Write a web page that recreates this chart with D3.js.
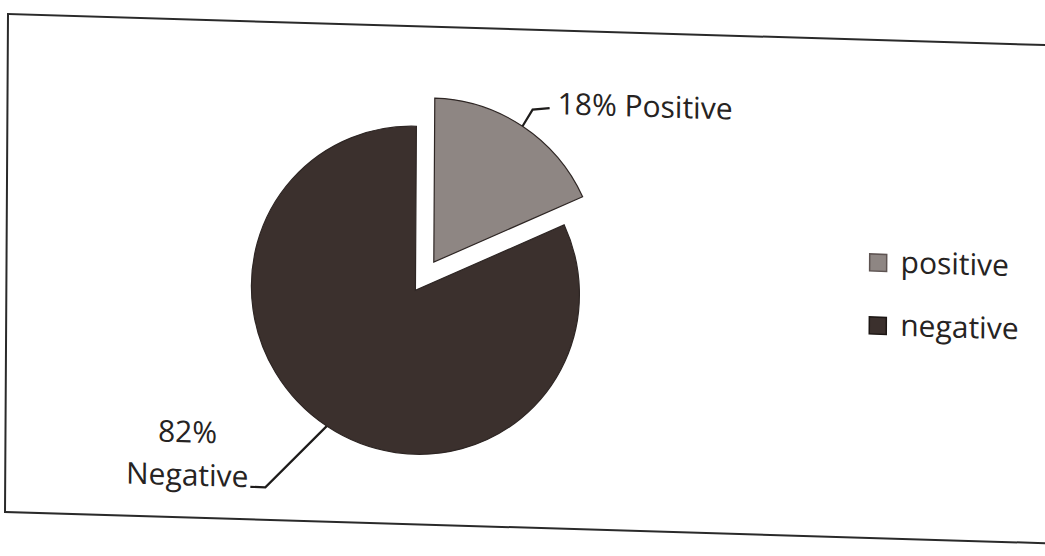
<!DOCTYPE html>
<html>
<head>
<meta charset="utf-8">
<script src="https://cdn.jsdelivr.net/npm/d3@7"></script>
<style>
  body { margin: 0; background: #fff; }
  svg { display: block; }
</style>
</head>
<body>
<svg id="chart" width="1045" height="556"></svg>
<script>
// data
const categories = ["positive", "negative"];
const values = [18, 82];
const sliceLabels = [["18% Positive"], ["82%", "Negative"]];
const legendLabels = ["positive", "negative"];

const colors = d3.scaleOrdinal()
    .domain(categories)
    .range(["#8e8683", "#3b302d"]);
const legendStroke = d3.scaleOrdinal()
    .domain(categories)
    .range(["#5e5452", "#1c1614"]);

const svg = d3.select("#chart");
svg.append("rect").attr("width", 1045).attr("height", 556).attr("fill", "#fff");

// the scan is slightly skewed, so draw the whole frame through one matrix
const g = svg.append("g")
    .attr("transform", "matrix(1,0.03,-0.006,1,8,14)");

g.append("rect")
    .attr("x", 0).attr("y", 0)
    .attr("width", 1100).attr("height", 498)
    .attr("fill", "none")
    .attr("stroke", "#2a2a2a")
    .attr("stroke-width", 2);

const cx = 409, cy = 264, radius = 164, explode = 34;

const pie = d3.pie().sort(null).value(d => d.value);
const arcs = pie(categories.map((c, i) => ({key: c, value: values[i]})));
const arc = d3.arc().innerRadius(0).outerRadius(radius);

const pieG = g.append("g").attr("transform", `translate(${cx},${cy})`);

function offsetOf(d) {
    if (d.data.key !== "positive") return [0, 0];
    const mid = (d.startAngle + d.endAngle) / 2;
    return [Math.sin(mid) * explode, -Math.cos(mid) * explode];
}

pieG.selectAll("path.slice")
    .data(arcs)
    .enter().append("path")
    .attr("class", "slice")
    .attr("d", arc)
    .attr("transform", d => `translate(${offsetOf(d)})`)
    .attr("fill", d => colors(d.data.key))
    .attr("stroke", "#2e2624")
    .attr("stroke-width", 1.2);

// leader lines + labels
const textColor = "#262322";
const font = "'Open Sans', 'DejaVu Sans', sans-serif";

arcs.forEach((d, i) => {
    const mid = (d.startAngle + d.endAngle) / 2;
    const [ox, oy] = offsetOf(d);
    const p0 = [ox + Math.sin(mid) * radius, oy - Math.cos(mid) * radius];
    let pts, tx, ty, anchor;
    if (d.data.key === "positive") {
        pts = [p0, [p0[0] + 10, p0[1] - 17], [p0[0] + 27, p0[1] - 19]];
        tx = p0[0] + 35; ty = p0[1] - 13; anchor = "start";
    } else {
        pts = [p0, [p0[0] - 61, p0[1] + 63], [p0[0] - 76, p0[1] + 63]];
        tx = -227; ty = 202; anchor = "middle";
    }
    pieG.append("path")
        .attr("d", d3.line().curve(d3.curveLinear)(pts))
        .attr("fill", "none")
        .attr("stroke", "#1e1c1b")
        .attr("stroke-width", 2.2);

    const lines = sliceLabels[i];
    lines.forEach((t, j) => {
        pieG.append("text")
            .attr("x", tx)
            .attr("y", ty - (lines.length - 1 - j) * 43)
            .attr("text-anchor", anchor)
            .attr("font-family", font)
            .attr("font-size", 30)
            .attr("fill", textColor)
            .text(t);
    });
});

// legend
const legend = g.selectAll(".legend")
    .data(categories)
    .enter().append("g")
    .attr("class", "legend")
    .attr("transform", (d, i) => `translate(863,${214 + i * 63})`);

legend.append("rect")
    .attr("width", 17).attr("height", 17)
    .attr("fill", d => colors(d))
    .attr("stroke", d => legendStroke(d))
    .attr("stroke-width", 1.5);

legend.append("text")
    .attr("x", 31)
    .attr("y", 18)
    .attr("font-family", font)
    .attr("font-size", 30)
    .attr("fill", textColor)
    .text((d, i) => legendLabels[i]);
</script>
</body>
</html>
